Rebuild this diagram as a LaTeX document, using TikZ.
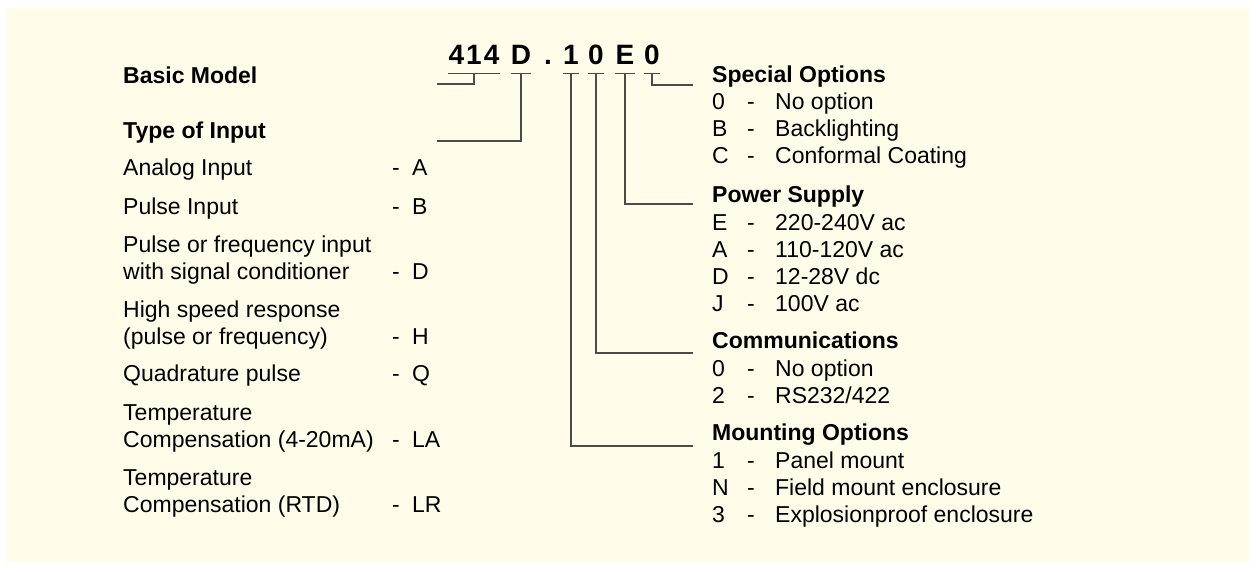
\documentclass[tikz,border=0pt]{standalone}
\usepackage{fontspec}
\setmainfont{Liberation Sans}
\usepackage{xcolor}
\usetikzlibrary{positioning}
\definecolor{cream}{RGB}{255,253,233}
\definecolor{leadgray}{RGB}{75,75,75}
\newcommand{\inpcode}[1]{\makebox[20pt][l]{-}#1}
\newcommand{\modopt}[2]{\makebox[35pt][l]{#1}\makebox[28pt][l]{-}#2}

\begin{document}
\begin{tikzpicture}[
  x=1pt, y=-1pt,
  font=\fontsize{23}{27}\selectfont,
  item/.style={anchor=base west, inner sep=0pt},
  head/.style={item, font=\fontsize{23}{27}\selectfont\bfseries},
  code/.style={anchor=base, inner sep=0pt, text depth=9pt,
               font=\fontsize{28}{30}\selectfont\bfseries},
  uline/.style={draw=leadgray, line width=1.2pt},
  lead/.style={draw=leadgray, line width=1.2pt}
]

% ── Frame ─────────────────────────────────────────────────
\useasboundingbox (0,0) rectangle (1250,563);
\fill[cream] (6,8) rectangle (1250,562);

% ── Model code ────────────────────────────────────────────
\node[code] (cbase) at (474,64) {4\kern2pt1\kern2pt4};
\node[code] (cinp)  at (521,64) {D};
\node[code] (cdot)  at (548,64) {.};
\node[code] (cmnt)  at (571,64) {1};
\node[code] (ccom)  at (596,64) {0};
\node[code] (cpsu)  at (625,64) {E};
\node[code] (cspc)  at (652,64) {0};

\draw[uline] (cbase.south west) -- (cbase.south east);
\draw[uline] (cinp.south west)  -- (cinp.south east);
\draw[uline] (cmnt.south west)  -- (cmnt.south east);
\draw[uline] (ccom.south west)  -- (ccom.south east);
\draw[uline] (cpsu.south west)  -- (cpsu.south east);
\draw[uline] (cspc.south west)  -- (cspc.south east);

% ── Left: basic model and input type ──────────────────────
\node[head] (bm)   at (123,83)  {Basic Model};
\node[head] (ti)   at (123,138) {Type of Input};

\node[item] (ana)  at (123,175) {Analog Input};
\node[item] (anac) at (392,175) {\inpcode{A}};
\node[item] (pul)  at (123,214) {Pulse Input};
\node[item] (pulc) at (392,214) {\inpcode{B}};
\node[item] (pof1) at (123,252) {Pulse or frequency input};
\node[item] (pof2) at (123,279) {with signal conditioner};
\node[item] (pofc) at (392,279) {\inpcode{D}};
\node[item] (hsr1) at (123,317) {High speed response};
\node[item] (hsr2) at (123,344) {(pulse or frequency)};
\node[item] (hsrc) at (392,344) {\inpcode{H}};
\node[item] (qdp)  at (123,381) {Quadrature pulse};
\node[item] (qdpc) at (392,381) {\inpcode{Q}};
\node[item] (tca1) at (123,420) {Temperature};
\node[item] (tca2) at (123,447) {Compensation (4-20mA)};
\node[item] (tcac) at (392,447) {\inpcode{LA}};
\node[item] (tcr1) at (123,485) {Temperature};
\node[item] (tcr2) at (123,512) {Compensation (RTD)};
\node[item] (tcrc) at (392,512) {\inpcode{LR}};

% ── Right: option groups ──────────────────────────────────
\node[head] (spc)  at (712,82)  {Special Options};
\node[item] (spc0) at (712,109) {\modopt{0}{No option}};
\node[item] (spcB) at (712,136) {\modopt{B}{Backlighting}};
\node[item] (spcC) at (712,163) {\modopt{C}{Conformal Coating}};

\node[head] (psu)  at (712,202) {Power Supply};
\node[item] (psuE) at (712,230) {\modopt{E}{220-240V ac}};
\node[item] (psuA) at (712,257) {\modopt{A}{110-120V ac}};
\node[item] (psuD) at (712,284) {\modopt{D}{12-28V dc}};
\node[item] (psuJ) at (712,311) {\modopt{J}{100V ac}};

\node[head] (com)  at (712,348) {Communications};
\node[item] (com0) at (712,376) {\modopt{0}{No option}};
\node[item] (com2) at (712,403) {\modopt{2}{RS232/422}};

\node[head] (mnt)  at (712,440) {Mounting Options};
\node[item] (mnt1) at (712,468) {\modopt{1}{Panel mount}};
\node[item] (mntN) at (712,495) {\modopt{N}{Field mount enclosure}};
\node[item] (mnt3) at (712,522) {\modopt{3}{Explosionproof enclosure}};

% ── Leader lines ──────────────────────────────────────────
\coordinate (bmend)  at (437,84);
\coordinate (tiend)  at (437,141);
\coordinate (spcend) at (693,85);
\coordinate (psuend) at (693,204);
\coordinate (comend) at (693,353);
\coordinate (mntend) at (693,446);

\draw[lead] (cbase.south) |- (bmend);
\draw[lead] (cinp.south)  |- (tiend);
\draw[lead] (cspc.south)  |- (spcend);
\draw[lead] (cpsu.south)  |- (psuend);
\draw[lead] (ccom.south)  |- (comend);
\draw[lead] (cmnt.south)  |- (mntend);

\end{tikzpicture}
\end{document}
